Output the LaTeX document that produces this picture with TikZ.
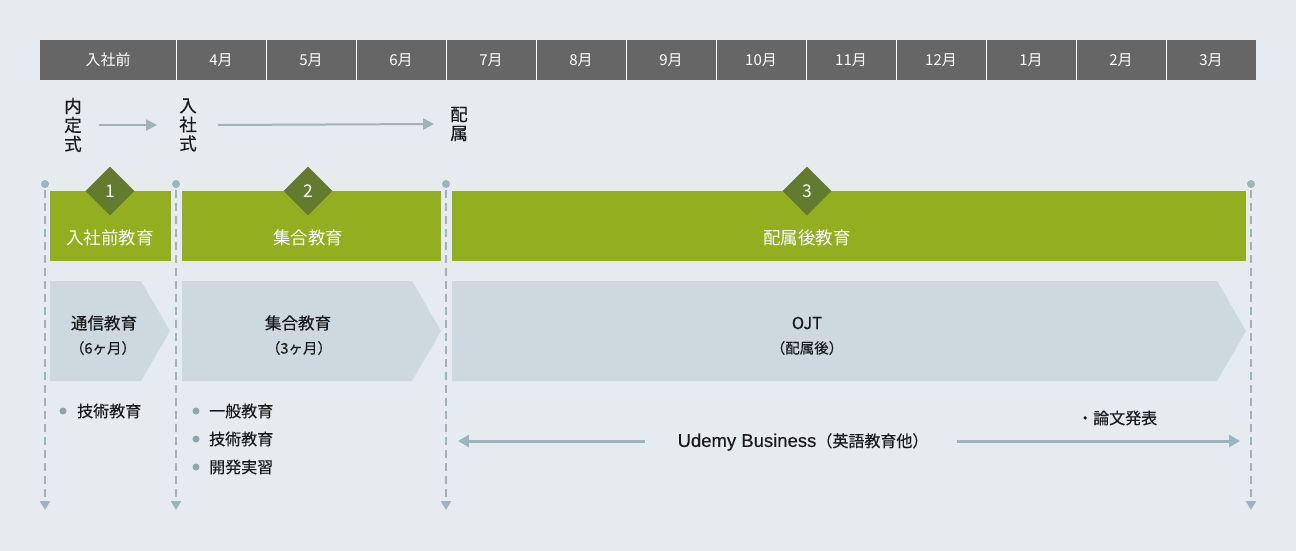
\documentclass[tikz,border=0pt]{standalone}
\usepackage{fontspec}
\setmainfont{Noto Sans CJK JP}
\newfontfamily\darkfont[FakeBold=0.35]{Noto Sans CJK JP}
\newfontfamily\latinfont[FakeBold=0.35]{Liberation Sans}
\usetikzlibrary{arrows.meta,shapes.geometric}
\definecolor{bgc}{HTML}{E5EBEE}
\definecolor{hdr}{HTML}{666666}
\definecolor{grn}{HTML}{93AF20}
\definecolor{dgrn}{HTML}{637B2E}
\definecolor{pent}{HTML}{CDD9DE}
\definecolor{linec}{HTML}{9DB4BC}
\definecolor{dotc}{HTML}{8FA5AC}
\definecolor{txt}{HTML}{1A1A1A}
\tikzset{
  hcell/.style={fill=hdr, text=white, minimum height=40pt, inner sep=0pt, font=\fontsize{15}{15}\selectfont},
  vtext/.style={align=center, inner sep=0pt, text=txt, font=\darkfont\fontsize{17.5}{19}\selectfont},
  gbar/.style={fill=grn, minimum height=70pt, inner sep=0pt},
  gnum/.style={diamond, aspect=1, fill=dgrn, minimum width=49pt, minimum height=49pt, inner sep=0pt, text=white, font=\fontsize{17.5}{17.5}\selectfont},
  glabel/.style={text=white, inner sep=0pt, font=\fontsize{17.5}{17.5}\selectfont},
  ptext/.style={text=txt, inner sep=0pt, font=\darkfont\fontsize{16.5}{16.5}\selectfont},
  psub/.style={text=txt, inner sep=0pt, font=\darkfont\fontsize{14.5}{14.5}\selectfont},
  btext/.style={text=txt, inner sep=0pt, anchor=west, font=\darkfont\fontsize{16}{16}\selectfont},
  dashline/.style={linec, line width=2pt, dash pattern=on 8pt off 5pt, -{Triangle[length=9pt,width=10pt]}},
  toparr/.style={linec, line width=2pt, -{Triangle[length=11pt,width=11pt]}},
  udarr/.style={linec, line width=3pt, -{Triangle[length=11pt,width=12pt]}},
}
\begin{document}
\begin{tikzpicture}[x=1pt,y=-1pt]
\useasboundingbox[fill=bgc] (0,0) rectangle (1296,551);

% header
\node[hcell, minimum width=136pt] (h0) at (108,60) {入社前};
\foreach \m [count=\i] in {4月,5月,6月,7月,8月,9月,10月,11月,12月,1月,2月,3月}
  \node[hcell, minimum width=90pt] (h\i) at (131+90*\i,60) {\m};
\foreach \i in {0,...,11}
  \draw[white, line width=1pt] (h\i.north east) -- (h\i.south east);

% top events
\node[vtext] (naitei) at (73,125) {内\\定\\式};
\node[vtext] (nyusha) at (188,125) {入\\社\\式};
\node[vtext] (haizoku) at (459,124) {配\\属};
\draw[toparr] ([xshift=17pt]naitei.east) -- ([xshift=-22pt]nyusha.west);
\draw[toparr] ([xshift=21pt]nyusha.east) -- ([xshift=-16pt]haizoku.west);

% dashed verticals
\foreach \x/\n in {45/a,176/b,446/c,1251/d}{
  \fill[linec] (\x,184) circle (4pt);
  \coordinate (top\n) at (\x,190);
  \coordinate (bot\n) at (\x,510);
  \draw[dashline] (top\n) -- (bot\n);
}

% green bars
\node[gbar, minimum width=121pt] (g1) at (110.5,226) {};
\node[gbar, minimum width=259pt] (g2) at (311.5,226) {};
\node[gbar, minimum width=794pt] (g3) at (849,226) {};
\node[gnum] (n1) at (110,191) {1};
\node[gnum] (n2) at (308,191) {2};
\node[gnum] (n3) at (807,191) {3};
\node[glabel] (l1) at (110,238) {入社前教育};
\node[glabel] (l2) at (308,238) {集合教育};
\node[glabel] (l3) at (807,238) {配属後教育};

% pentagons
\fill[pent] (50,281) -- (141,281) -- (170,331) -- (141,381) -- (50,381) -- cycle;
\fill[pent] (182,281) -- (412,281) -- (441,331) -- (412,381) -- (182,381) -- cycle;
\fill[pent] (452,281) -- (1217,281) -- (1246,331) -- (1217,381) -- (452,381) -- cycle;
\node[ptext] (p1) at (104,323) {通信教育};
\node[psub] (p1s) at (103,348) {（6ヶ月）};
\node[ptext] (p2) at (298,323) {集合教育};
\node[psub] (p2s) at (299,348) {（3ヶ月）};
\node[ptext] (p3) at (807,323) {OJT};
\node[psub] (p3s) at (807,348) {（配属後）};

% bullets
\fill[dotc] (63,411) circle (3.5pt);
\node[btext] (b1) at (77,411) {技術教育};
\fill[dotc] (196,411) circle (3.5pt);
\node[btext] (b2) at (209,411) {一般教育};
\fill[dotc] (196,439) circle (3.5pt);
\node[btext] (b3) at (209,439) {技術教育};
\fill[dotc] (196,467) circle (3.5pt);
\node[btext] (b4) at (209,467) {開発実習};

% udemy
\node[text=txt, inner sep=0pt] (udemy) at (803,442) {{\latinfont\fontsize{18.5}{18.5}\selectfont Udemy Business}{\darkfont\fontsize{16}{16}\selectfont（英語教育他）}};
\coordinate (ul) at (458,441);
\coordinate (ur) at (1240,441);
\draw[udarr] ([xshift=-32pt]udemy.west |- ul) -- (ul);
\draw[udarr] ([xshift=28pt]udemy.east |- ur) -- (ur);
\node[btext] (ronbun) at (1077,418) {・論文発表};
\end{tikzpicture}
\end{document}
